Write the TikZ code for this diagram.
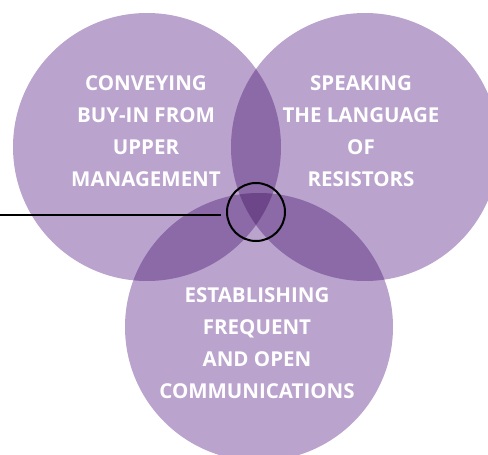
\documentclass[tikz,border=0pt]{standalone}
\usepackage{fontspec}
\setmainfont{Open Sans}

\definecolor{lilac}{HTML}{BAA3CD}
\definecolor{midlilac}{HTML}{8B6AA7}
\definecolor{deeplilac}{HTML}{6D4589}

\begin{document}
\begin{tikzpicture}[x=1pt,y=-1pt,
    venntext/.style={text=white,align=center,font=\bfseries\fontsize{20.5}{32}\selectfont}]
        \useasboundingbox (0,0) rectangle (488,455);
        \clip (0,0) rectangle (488,455);

        % Three base circles
        \fill[lilac] (147,147) circle (134);
        \fill[lilac] (365,147) circle (134);
        \fill[lilac] (259,327) circle (134);

        % Pairwise overlaps
        \begin{scope}
            \clip (147,147) circle (134);
            \fill[midlilac] (365,147) circle (134);
            \fill[midlilac] (259,327) circle (134);
        \end{scope}
        \begin{scope}
            \clip (365,147) circle (134);
            \fill[midlilac] (259,327) circle (134);
        \end{scope}

        % Centre where all three meet
        \begin{scope}
            \clip (147,147) circle (134);
            \clip (365,147) circle (134);
            \fill[deeplilac] (259,327) circle (134);
        \end{scope}

        % Labels
        \node[venntext] (upper) at (146,131) {CONVEYING\\BUY-IN FROM\\UPPER\\MANAGEMENT};
        \node[venntext] (resist) at (361,131) {SPEAKING\\THE LANGUAGE\\OF\\RESISTORS};
        \node[venntext] (comms) at (257,343) {ESTABLISHING\\FREQUENT\\AND OPEN\\COMMUNICATIONS};

        % Ring round the centre and its pointer line
        \node[draw=black,line width=2pt,circle,minimum size=58pt,inner sep=0pt] (ring) at (256,212) {};
        \coordinate (lineend) at (0,215);
        \draw[line width=2pt] (lineend) -- ([xshift=-5pt]ring.west |- lineend);
    \end{tikzpicture}
\end{document}
